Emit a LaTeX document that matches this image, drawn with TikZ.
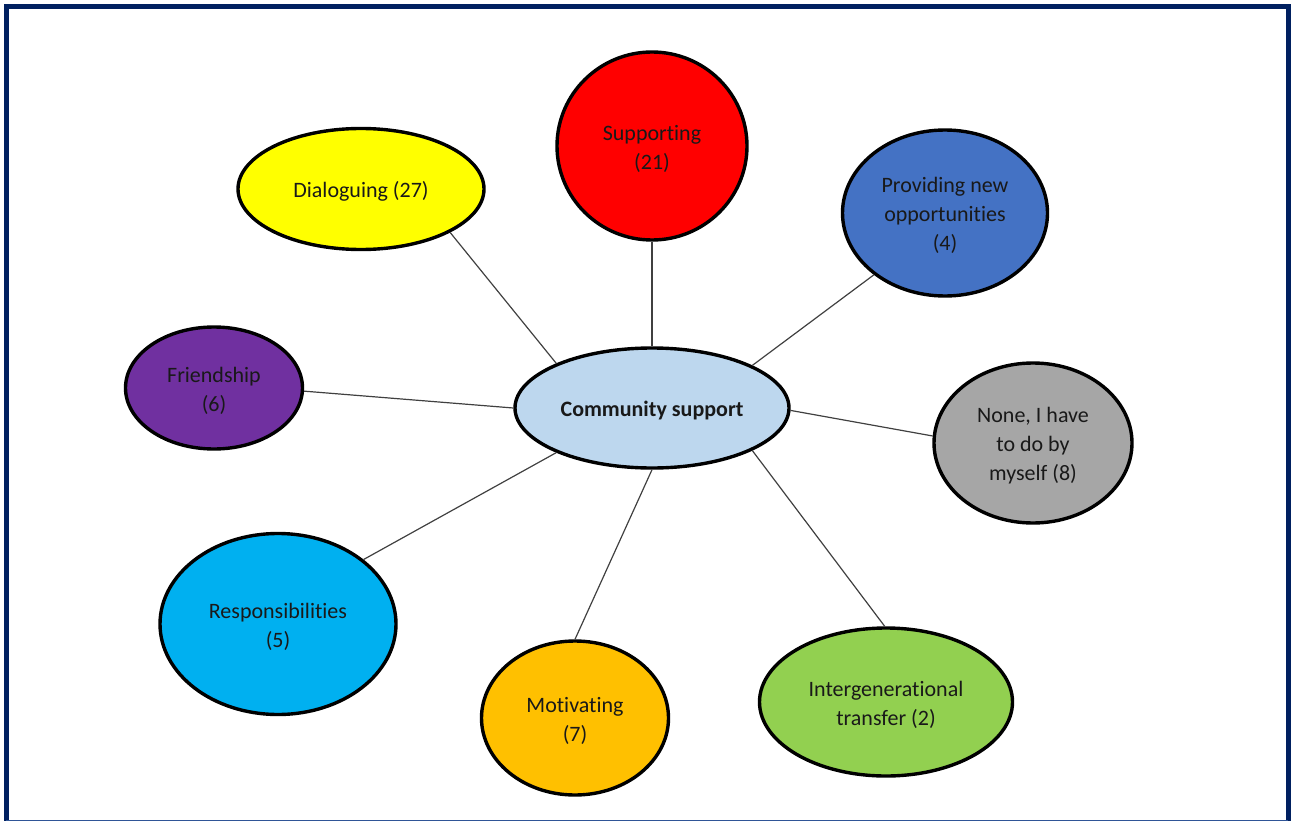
\documentclass[tikz,border=0pt]{standalone}
\usepackage{fontspec}
\setmainfont{Carlito}[Ligatures=NoCommon]
\definecolor{framenavy}{HTML}{002060}
\definecolor{framelow}{HTML}{2F5597}
\definecolor{hubblue}{HTML}{BDD7EE}
\definecolor{cyellow}{HTML}{FFFF00}
\definecolor{cred}{HTML}{FF0000}
\definecolor{cblue}{HTML}{4472C4}
\definecolor{cpurple}{HTML}{7030A0}
\definecolor{cgray}{HTML}{A6A6A6}
\definecolor{ccyan}{HTML}{00B0F0}
\definecolor{corange}{HTML}{FFC000}
\definecolor{cgreen}{HTML}{92D050}
\definecolor{linkgray}{HTML}{404040}
\usetikzlibrary{shapes.geometric}
% centred block of lines, drawn slightly below the shape's centre
\newcommand\bubbletext[1]{\raisebox{-3pt}[\height][\depth]{\begin{tabular}{@{}c@{}}#1\end{tabular}}}
\tikzset{
  bubble/.style n args={3}{ellipse, draw=black, line width=3.4pt, fill=#1,
    minimum width=#2, minimum height=#3, inner sep=0pt,
    font=\fontsize{22}{29}\selectfont, text=black!90},
  link/.style={draw=linkgray, line width=1.2pt},
  framedge/.style={draw=framenavy, line width=5pt}
}
\begin{document}
\begin{tikzpicture}[x=1pt,y=-1pt]
\useasboundingbox (0,0) rectangle (1292,821);
% page frame, open at the bottom with a thin closing rule
\draw[framedge] (6,823) -- (6,6.5) -- (1288,6.5) -- (1288,823);
\draw[draw=framelow, line width=1.3pt] (6,820.2) -- (1288,820.2);

% hub
\node[bubble={hubblue}{274pt}{120pt}, font=\fontsize{22}{29}\selectfont\bfseries] (cs) at (652,408) {\bubbletext{Community support}};

% categories
\node[bubble={cyellow}{246pt}{121pt}] (dia) at (361,189) {\bubbletext{Dialoguing (27)}};
\node[bubble={cred}{190pt}{188pt}] (sup) at (652,146) {\bubbletext{Supporting\\(21)}};
\node[bubble={cblue}{205pt}{166pt}] (pro) at (945,213) {\bubbletext{Providing new\\opportunities\\(4)}};
\node[bubble={cpurple}{177pt}{122pt}] (fri) at (214,388) {\bubbletext{Friendship\\(6)}};
\node[bubble={cgray}{198pt}{160pt}] (non) at (1033,443) {\bubbletext{None, I have\\to do by\\myself (8)}};
\node[bubble={ccyan}{236pt}{181pt}] (res) at (278,624) {\bubbletext{Responsibilities\\(5)}};
\node[bubble={corange}{187pt}{154pt}] (mot) at (575,718) {\bubbletext{Motivating\\(7)}};
\node[bubble={cgreen}{253pt}{148pt}] (int) at (886,702) {\bubbletext{Intergenerational\\transfer (2)}};

% connectors
\draw[link] (dia.-26) -- (cs.155.8);
\draw[link] (sup.-90) -- (cs.90);
\draw[link] (pro.-139.7) -- (cs.23.3);
\draw[link] (fri.-2) -- (cs.180);
\draw[link] (non.176.6) -- (cs.-1.5);
\draw[link] (res.37.5) -- (cs.-155.4);
\draw[link] (mot.90) -- (cs.-90);
\draw[link] (int.91.5) -- (cs.-23.7);
\end{tikzpicture}
\end{document}
